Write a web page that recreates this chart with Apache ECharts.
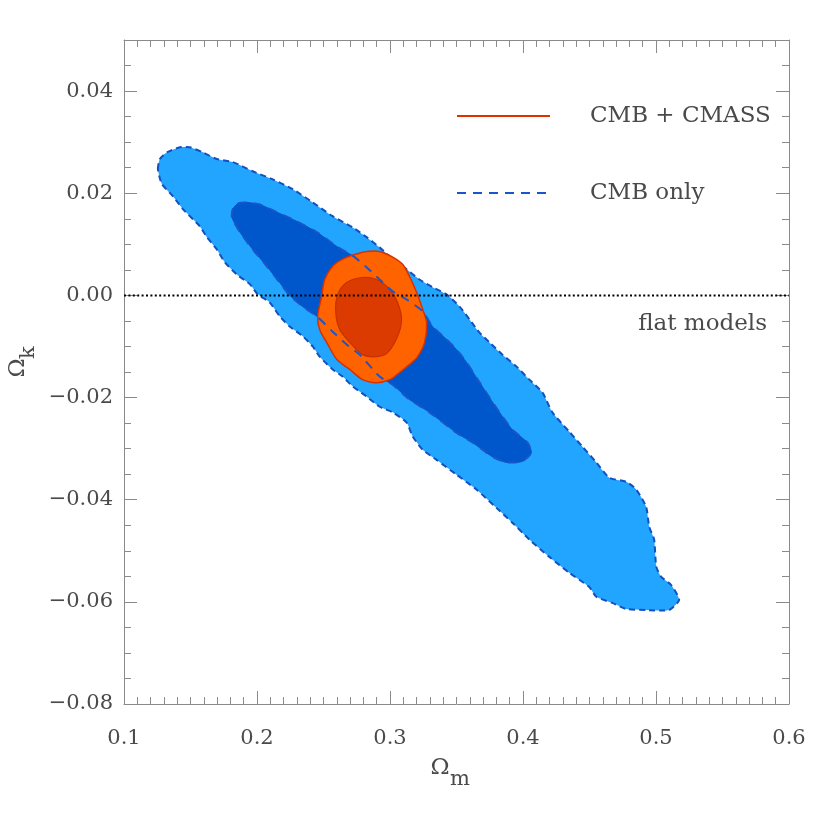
<!DOCTYPE html>
<html><head><meta charset="utf-8">
<script src="https://cdn.jsdelivr.net/npm/echarts@6/dist/echarts.min.js"></script>
<style>html,body{margin:0;padding:0;background:#fff}#c{width:830px;height:830px}</style>
</head><body><div id="c"></div>
<script>
// ---- data (Omega_m, Omega_k) ----
const xRange = [0.1, 0.6];
const yRange = [-0.08, 0.05];
const xTickValues = [0.1, 0.2, 0.3, 0.4, 0.5, 0.6];
const yTickValues = [-0.08, -0.06, -0.04, -0.02, 0.00, 0.02, 0.04];

// CMB only, 95% contour (light blue)
const cmbOuter = [
 [0.1255,0.0247],[0.1270,0.0267],[0.1323,0.0280],[0.1420,0.0290],[0.1495,0.0290],[0.1593,0.0280],
 [0.1698,0.0267],[0.1818,0.0261],[0.1968,0.0243],[0.2119,0.0227],[0.2269,0.0208],[0.2419,0.0182],
 [0.2569,0.0155],[0.2719,0.0133],[0.2824,0.0114],[0.2922,0.0094],[0.3020,0.0071],[0.3125,0.0051],
 [0.3222,0.0031],[0.3320,0.0016],[0.3425,0.0002],[0.3523,-0.0022],[0.3598,-0.0047],[0.3673,-0.0073],
 [0.3748,-0.0092],[0.3845,-0.0116],[0.3950,-0.0139],[0.4048,-0.0165],[0.4146,-0.0190],[0.4221,-0.0229],
 [0.4348,-0.0267],[0.4446,-0.0296],[0.4551,-0.0327],[0.4649,-0.0357],[0.4776,-0.0365],[0.4851,-0.0380],
 [0.4926,-0.0414],[0.4949,-0.0453],[0.4986,-0.0478],[0.5002,-0.0531],[0.5039,-0.0551],[0.5114,-0.0567],
 [0.5174,-0.0596],[0.5099,-0.0616],[0.4926,-0.0616],[0.4776,-0.0614],[0.4671,-0.0602],[0.4551,-0.0590],
 [0.4498,-0.0571],[0.4348,-0.0543],[0.4198,-0.0512],[0.4048,-0.0478],[0.3920,-0.0445],[0.3800,-0.0416],
 [0.3650,-0.0380],[0.3500,-0.0351],[0.3350,-0.0322],[0.3245,-0.0302],[0.3170,-0.0276],[0.3125,-0.0249],
 [0.3020,-0.0229],[0.2922,-0.0218],[0.2824,-0.0198],[0.2719,-0.0178],[0.2644,-0.0159],[0.2569,-0.0145],
 [0.2471,-0.0120],[0.2419,-0.0100],[0.2344,-0.0080],[0.2246,-0.0061],[0.2171,-0.0041],[0.2096,-0.0014],
 [0.2006,0.0002],[0.1946,0.0022],[0.1848,0.0041],[0.1758,0.0065],[0.1698,0.0090],[0.1623,0.0114],
 [0.1571,0.0135],[0.1443,0.0169],[0.1368,0.0194],[0.1285,0.0218]
];
// CMB only, 68% contour (dark blue)
const cmbInner = [
 [0.1811,0.0153],[0.1818,0.0169],[0.1856,0.0180],[0.1923,0.0182],[0.2021,0.0178],[0.2149,0.0163],
 [0.2299,0.0145],[0.2449,0.0124],[0.2599,0.0096],[0.2734,0.0075],[0.2824,0.0055],[0.2922,0.0031],
 [0.3020,0.0008],[0.3125,-0.0008],[0.3245,-0.0031],[0.3320,-0.0061],[0.3425,-0.0086],[0.3500,-0.0106],
 [0.3575,-0.0131],[0.3650,-0.0161],[0.3733,-0.0194],[0.3823,-0.0229],[0.3920,-0.0263],[0.4033,-0.0288],
 [0.4063,-0.0308],[0.3995,-0.0325],[0.3875,-0.0327],[0.3770,-0.0316],[0.3620,-0.0288],[0.3500,-0.0269],
 [0.3297,-0.0229],[0.3147,-0.0204],[0.3020,-0.0175],[0.2922,-0.0159],[0.2772,-0.0116],[0.2674,-0.0096],
 [0.2569,-0.0071],[0.2449,-0.0041],[0.2344,-0.0022],[0.2246,0.0000],[0.2171,0.0025],[0.2074,0.0057],
 [0.1968,0.0090],[0.1871,0.0124]
];
// CMB + CMASS, 95% contour (orange)
const cmassOuter = [
 [0.2734,0.0080],[0.2824,0.0086],[0.2922,0.0086],[0.3020,0.0075],[0.3095,0.0061],[0.3147,0.0037],
 [0.3200,0.0006],[0.3245,-0.0027],[0.3275,-0.0053],[0.3260,-0.0092],[0.3207,-0.0120],[0.3147,-0.0135],
 [0.3072,-0.0151],[0.2997,-0.0165],[0.2899,-0.0171],[0.2794,-0.0165],[0.2697,-0.0145],[0.2599,-0.0125],
 [0.2524,-0.0092],[0.2471,-0.0067],[0.2456,-0.0041],[0.2486,-0.0002],[0.2509,0.0031],[0.2569,0.0057],
 [0.2644,0.0071]
];
// CMB + CMASS, 68% contour (dark orange)
const cmassInner = [
 [0.2787,0.0035],[0.2899,0.0031],[0.2997,0.0012],[0.3057,-0.0014],[0.3087,-0.0047],[0.3057,-0.0080],
 [0.2982,-0.0112],[0.2899,-0.0120],[0.2794,-0.0116],[0.2697,-0.0092],[0.2622,-0.0067],[0.2592,-0.0033],
 [0.2607,0.0002],[0.2674,0.0025]
];
const flatLine = [[0.1, 0], [0.6, 0]];
const legendNames = ['CMB + CMASS', 'CMB only'];
const flatLabel = 'flat models';

// ---- chart ----
const FONT = 'DejaVu Serif';
const TXT = '#4a4a4a';
const AX = '#8a8a8a';
const chart = echarts.init(document.getElementById('c'), null, {renderer: 'canvas'});

function poly(name, pts, style, z, smooth) {
  return {
    type: 'custom', name: name, xAxisIndex: 0, yAxisIndex: 0, z: z, silent: true,
    data: [[pts[0][0], pts[0][1]]],
    renderItem: function (params, api) {
      return {type: 'polygon', shape: {points: pts.map(function (p) { return api.coord(p); }), smooth: smooth || 0}, style: style};
    }
  };
}

function fmtY(v) {
  if (Math.abs(v) < 1e-9) return '0.00';
  return (v < 0 ? '\u2212' : '') + Math.abs(v).toFixed(2);
}

const common = {type: 'value', splitLine: {show: false}, axisLine: {show: true, onZero: false, lineStyle: {color: AX, width: 1}}};

const option = {
  animation: false,
  backgroundColor: '#fff',
  grid: {left: 124, right: 41, top: 40, bottom: 126, containLabel: false},
  xAxis: [
    Object.assign({}, common, {position: 'bottom', min: xRange[0], max: xRange[1], interval: 0.1,
      axisTick: {inside: true, length: 13, lineStyle: {color: AX}},
      minorTick: {show: true, splitNumber: 10, length: 7, lineStyle: {color: AX}},
      axisLabel: {fontFamily: FONT, fontSize: 21, color: TXT, margin: 24,
        formatter: function (v) { return xTickValues.indexOf(Math.round(v*10)/10) >= 0 ? v.toFixed(1) : ''; }}}),
    Object.assign({}, common, {position: 'top', min: xRange[0], max: xRange[1], interval: 0.1,
      axisTick: {inside: true, length: 13, lineStyle: {color: AX}},
      minorTick: {show: true, splitNumber: 10, length: 7, lineStyle: {color: AX}},
      axisLabel: {show: false}})
  ],
  yAxis: [
    Object.assign({}, common, {position: 'left', min: yRange[0], max: yRange[1], interval: 0.02,
      axisTick: {inside: true, length: 13, lineStyle: {color: AX}},
      axisLabel: {fontFamily: FONT, fontSize: 21, color: TXT, margin: 11, showMaxLabel: false,
        formatter: function (v) { return yTickValues.some(function (t) { return Math.abs(t - v) < 1e-6; }) ? fmtY(v) : ''; }}}),
    Object.assign({}, common, {position: 'right', min: yRange[0], max: yRange[1], interval: 0.02,
      axisTick: {inside: true, length: 13, lineStyle: {color: AX}}, axisLabel: {show: false}}),
    Object.assign({}, common, {position: 'left', min: yRange[0], max: yRange[1], interval: 0.005, axisLine: {show: false},
      axisTick: {inside: true, length: 7, lineStyle: {color: AX}}, axisLabel: {show: false}}),
    Object.assign({}, common, {position: 'right', min: yRange[0], max: yRange[1], interval: 0.005, axisLine: {show: false},
      axisTick: {inside: true, length: 7, lineStyle: {color: AX}}, axisLabel: {show: false}})
  ],
  series: [
    poly('CMB only 95', cmbOuter, {fill: '#21a5ff', stroke: '#1450c0', lineWidth: 2, lineDash: [6, 4]}, 2, 0.2),
    poly('CMB only 68', cmbInner, {fill: '#0057cc', stroke: '#0a52c4', lineWidth: 1}, 3, 0.2),
    poly('CMB + CMASS 95', cmassOuter, {fill: '#ff6300', stroke: '#d83000', lineWidth: 1.5}, 4, 0.3),
    poly('CMB + CMASS 68', cmassInner, {fill: '#db3b00', stroke: '#c83000', lineWidth: 1.2}, 5, 0.3),
    poly('CMB only 68 line', cmbInner, {fill: 'none', stroke: '#1a56c8', lineWidth: 2, lineDash: [9, 7]}, 6, 0.2),
    {type: 'line', name: 'flat', data: flatLine, xAxisIndex: 0, yAxisIndex: 0, symbol: 'none', z: 7, silent: true,
      lineStyle: {color: '#000', width: 2, type: [2, 2.4]}}
  ],
  graphic: [
    {type: 'line', shape: {x1: 457, y1: 116, x2: 550, y2: 116}, style: {stroke: '#e03000', lineWidth: 2}, z: 10},
    {type: 'text', x: 590, y: 116, style: {text: legendNames[0], fontFamily: FONT, fontSize: 23, fill: TXT, textVerticalAlign: 'middle', textAlign: 'left'}, z: 10},
    {type: 'line', shape: {x1: 457, y1: 193, x2: 550, y2: 193}, style: {stroke: '#1a56c8', lineWidth: 2, lineDash: [9, 7]}, z: 10},
    {type: 'text', x: 590, y: 193, style: {text: legendNames[1], fontFamily: FONT, fontSize: 23, fill: TXT, textVerticalAlign: 'middle', textAlign: 'left'}, z: 10},
    {type: 'text', x: 767, y: 324, style: {text: flatLabel, fontFamily: FONT, fontSize: 23, fill: TXT, textVerticalAlign: 'middle', textAlign: 'right'}, z: 10},
    {type: 'text', x: 440, y: 768, style: {text: '\u03A9', fontFamily: FONT, fontSize: 23, fill: TXT, textVerticalAlign: 'middle', textAlign: 'center'}},
    {type: 'text', x: 450, y: 780, style: {text: 'm', fontFamily: FONT, fontSize: 21, fill: TXT, textVerticalAlign: 'middle', textAlign: 'left'}},
    {type: 'group', x: 18, y: 368, rotation: Math.PI / 2, children: [
      {type: 'text', x: 0, y: 0, style: {text: '\u03A9', fontFamily: FONT, fontSize: 23, fill: TXT, textVerticalAlign: 'middle', textAlign: 'center'}},
      {type: 'text', x: 9, y: 11, style: {text: 'k', fontFamily: FONT, fontSize: 21, fill: TXT, textVerticalAlign: 'middle', textAlign: 'left'}}
    ]}
  ]
};
chart.setOption(option);
</script>
</body></html>
